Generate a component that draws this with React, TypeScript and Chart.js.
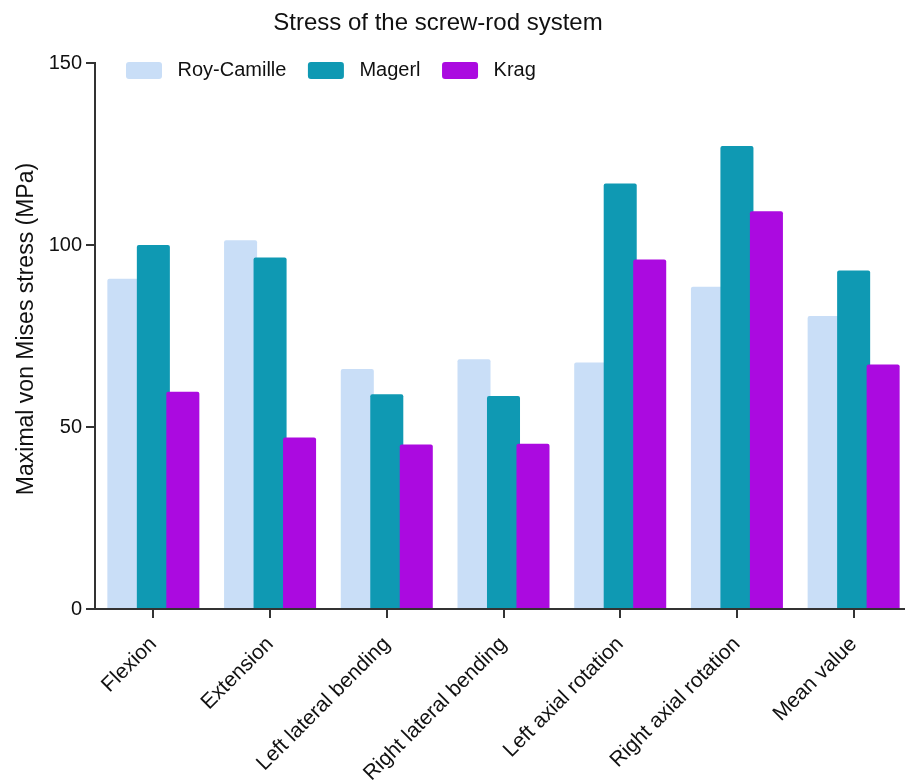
import React, { useEffect, useRef } from "react";
import { Chart, registerables } from "chart.js";

Chart.register(...registerables);

// ---- data ----
const categories = [
  "Flexion",
  "Extension",
  "Left lateral bending",
  "Right lateral bending",
  "Left axial rotation",
  "Right axial rotation",
  "Mean value",
];
const royCamille = [90.7, 101.3, 65.9, 68.6, 67.7, 88.5, 80.5];
const magerl = [100.0, 96.6, 59.0, 58.5, 116.9, 127.2, 93.0];
const krag = [59.7, 47.1, 45.2, 45.4, 96.0, 109.3, 67.2];
const seriesNames = ["Roy-Camille", "Magerl", "Krag"];
const seriesColors = ["#c9def7", "#0f99b3", "#ab0ae0"];
const yTickValues = [0, 50, 100, 150];
const chartTitle = "Stress of the screw-rod system";
const yAxisTitle = "Maximal von Mises stress (MPa)";

const FONT = '"Liberation Sans", Arial, Helvetica, sans-serif';
const AXIS_COLOR = "#333333";
const TEXT_COLOR = "#111111";

// draws bar datasets first-to-last so later series sit on top of earlier ones
const forwardDrawPlugin = {
  id: "forwardDraw",
  beforeDatasetsDraw(chart: any) {
    const metas = chart.getSortedVisibleDatasetMetas();
    for (const meta of metas) meta.controller.draw();
    return false;
  },
};

// title, y-axis title and legend
const decorPlugin = {
  id: "decor",
  afterDraw(chart: any) {
    const ctx: CanvasRenderingContext2D = chart.ctx;
    ctx.save();

    // title
    ctx.fillStyle = TEXT_COLOR;
    ctx.font = `24px ${FONT}`;
    ctx.textAlign = "center";
    ctx.textBaseline = "alphabetic";
    ctx.fillText(chartTitle, 438, 29.5);

    // y axis title
    ctx.save();
    ctx.translate(27, 329);
    ctx.rotate(-Math.PI / 2);
    ctx.font = `23px ${FONT}`;
    ctx.textAlign = "center";
    ctx.textBaseline = "middle";
    ctx.fillText(yAxisTitle, 0, 0);
    ctx.restore();

    // legend
    ctx.font = `20px ${FONT}`;
    ctx.textAlign = "left";
    ctx.textBaseline = "middle";
    let x = 126;
    const y = 62;
    chart.data.datasets.forEach((ds: any) => {
      ctx.fillStyle = ds.backgroundColor;
      ctx.beginPath();
      (ctx as any).roundRect(x, y, 36, 17, 3);
      ctx.fill();
      x += 36 + 15.5;
      ctx.fillStyle = TEXT_COLOR;
      ctx.fillText(ds.label, x, y + 8.5);
      x += ctx.measureText(ds.label).width + 21.5;
    });

    ctx.restore();
  },
};

function StressChart() {
  const canvasRef = useRef<HTMLCanvasElement | null>(null);

  useEffect(() => {
    if (!canvasRef.current) return;
    const seriesValues = [royCamille, magerl, krag];
    const chart = new Chart(canvasRef.current, {
      type: "bar",
      data: {
        labels: categories,
        datasets: seriesNames.map((name, i) => ({
          label: name,
          data: seriesValues[i],
          backgroundColor: seriesColors[i],
          borderWidth: 0,
          borderRadius: 2,
          categoryPercentage: 0.758,
          barPercentage: 1.12,
        })),
      },
      options: {
        animation: false,
        responsive: false,
        devicePixelRatio: 1,
        layout: { padding: { top: 63, right: 13, left: 0, bottom: 0 } },
        plugins: {
          legend: { display: false },
          title: { display: false },
          tooltip: { enabled: false },
        },
        scales: {
          x: {
            offset: true,
            grid: {
              display: true,
              offset: false,
              drawOnChartArea: false,
              drawTicks: true,
              tickLength: 9,
              color: AXIS_COLOR,
              lineWidth: 2,
            },
            border: { display: true, color: AXIS_COLOR, width: 2 },
            ticks: {
              autoSkip: false,
              maxRotation: 45,
              minRotation: 45,
              padding: 14,
              color: TEXT_COLOR,
              font: { family: FONT, size: 21 },
            },
            afterFit(scale: any) {
              scale.height = 175;
            },
          },
          y: {
            min: 0,
            max: 150,
            grid: {
              display: true,
              drawOnChartArea: false,
              drawTicks: true,
              tickLength: 9,
              color: AXIS_COLOR,
              lineWidth: 2,
            },
            border: { display: true, color: AXIS_COLOR, width: 2 },
            ticks: {
              padding: 4,
              color: TEXT_COLOR,
              font: { family: FONT, size: 20 },
            },
            afterBuildTicks(scale: any) {
              scale.ticks = yTickValues.map((v) => ({ value: v }));
            },
            afterFit(scale: any) {
              scale.width = 95;
            },
          },
        },
      },
      plugins: [forwardDrawPlugin, decorPlugin],
    });
    return () => chart.destroy();
  }, []);

  return (
    <canvas
      ref={canvasRef}
      width={925}
      height={784}
      style={{ display: "block", width: 925, height: 784 }}
    />
  );
}

export default function App() {
  return (
    <div
      style={{
        position: "fixed",
        left: 0,
        top: 0,
        width: 905,
        height: 784,
        overflow: "hidden",
        background: "#ffffff",
      }}
    >
      <StressChart />
    </div>
  );
}
